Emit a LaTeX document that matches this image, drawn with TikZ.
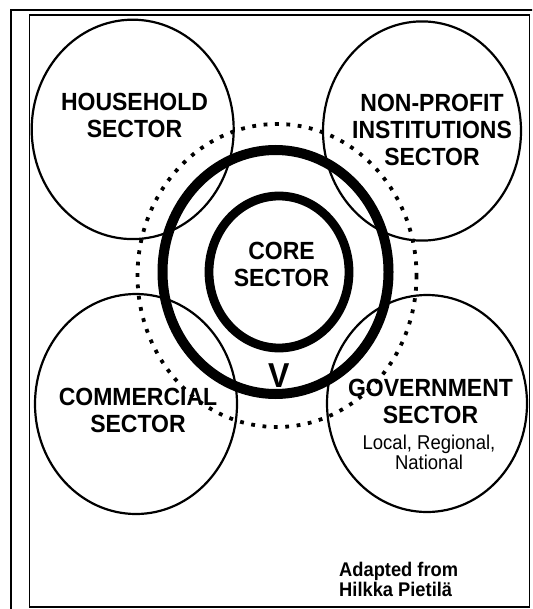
\documentclass[tikz,border=0pt]{standalone}
\usepackage{fontspec}
\setmainfont{Liberation Sans}
\begin{document}
\begin{tikzpicture}[x=1pt,y=-1pt,
  sector/.style={line width=2.2pt},
  ringcore/.style={line width=8.8pt},
  ringmid/.style={line width=10pt},
  ringdot/.style={line width=3.8pt, dash pattern=on 3.8pt off 7.6pt},
  bigtxt/.style={font=\bfseries\fontsize{23}{25}\selectfont, align=center, inner sep=0pt, yscale=1.08},
  smalltxt/.style={font=\fontsize{18.5}{19}\selectfont, align=center, inner sep=0pt, yscale=1.08},
  notetxt/.style={font=\bfseries\fontsize{18.3}{18.5}\selectfont, align=left, inner sep=0pt, yscale=1.08},
  vtxt/.style={font=\bfseries\fontsize{32}{32}\selectfont, inner sep=0pt, yscale=1.08}]
\useasboundingbox (0,0) rectangle (532,609);
\begin{scope}
\clip (0,0) rectangle (532,609);
% outer frame (cut by page edge)
\draw[line width=2pt] (11,10) rectangle (560,640);
\end{scope}
% inner frame
\draw[line width=1.1pt] (29.5,15) rectangle (529.5,607);
% sector circles
\draw[sector] (132.7,129.4) ellipse [x radius=101, y radius=109.7];
\draw[sector] (422,131) ellipse [x radius=99, y radius=109.6];
\draw[sector] (136,404) ellipse [x radius=101, y radius=110];
\draw[sector] (427,403.5) ellipse [x radius=100, y radius=108.5];
% rings
\draw[ringdot] (277,275.5) ellipse [x radius=139.5, y radius=151.5];
\draw[ringmid] (275.5,272) ellipse [x radius=113, y radius=122];
\draw[ringcore] (279,272) ellipse [x radius=70, y radius=76];
% texts
\node[bigtxt] (household) at (134.5,115) {HOUSEHOLD\\SECTOR};
\node[bigtxt] (nonprofit) at (432,129.8) {NON-PROFIT\\INSTITUTIONS\\SECTOR};
\node[bigtxt] (core) at (281.5,264) {CORE\\SECTOR};
\node[bigtxt] (commercial) at (138,410) {COMMERCIAL\\SECTOR};
\node[bigtxt] (government) at (430.5,401.5) {GOVERNMENT\\SECTOR};
\node[smalltxt] (levels) at (429,452.5) {Local, Regional,\\National};
\node[vtxt, anchor=base] (v) at (279,387) {V};
\node[notetxt, anchor=west] (note) at (339,579) {Adapted from\\Hilkka Pietilä};
\end{tikzpicture}
\end{document}
